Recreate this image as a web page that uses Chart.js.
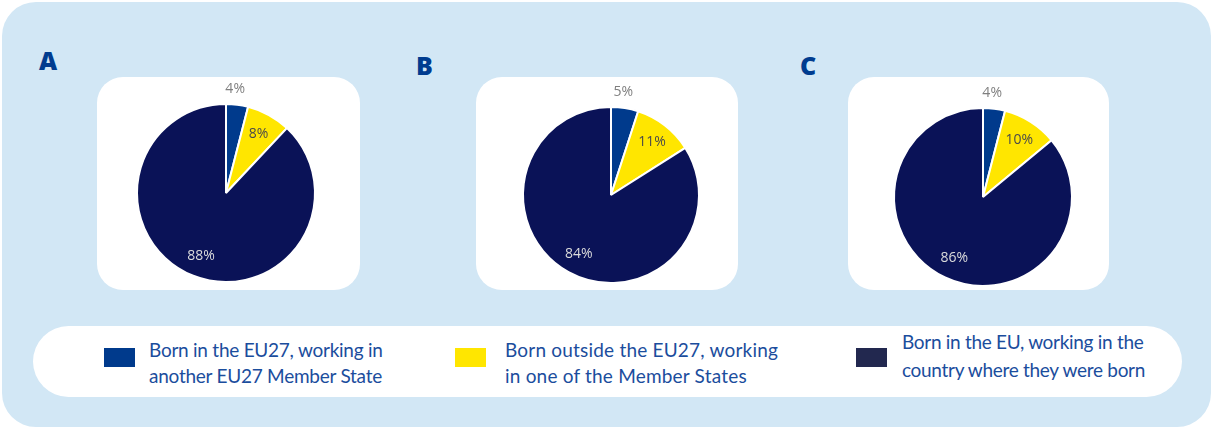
<!DOCTYPE html>
<html>
<head>
<meta charset="utf-8">
<script src="https://cdn.jsdelivr.net/npm/chart.js@4.4.1/dist/chart.umd.min.js"></script>
<style>
  html, body { margin:0; padding:0; background:#ffffff; width:1212px; height:429px; overflow:hidden; }
  #bg { position:absolute; left:2px; top:2px; width:1209px; height:425px; border-radius:34px; background:#d2e7f5; }
  .box { position:absolute; background:#ffffff; border-radius:26px; }
  .box canvas { position:absolute; left:0; top:0; }
  .letter { position:absolute; font-family:"Open Sans", sans-serif; font-weight:800; font-size:25px; color:#003c8f; line-height:25px; }
  #legend { position:absolute; left:33px; top:326px; width:1149px; height:71px; background:#ffffff; border-radius:36px; }
  .sw { position:absolute; width:31px; height:19px; }
  .lt { position:absolute; font-family:Lato, sans-serif; font-size:19px; line-height:26px; color:#1b4d9d; white-space:nowrap; }
</style>
</head>
<body>
<div id="bg"></div>
<div id="legend"></div>
<div id="root"></div>
<script>
// ---------- data ----------
const panelLetters = ["A", "B", "C"];
const categories = [
  "Born in the EU27, working in another EU27 Member State",
  "Born outside the EU27, working in one of the Member States",
  "Born in the EU, working in the country where they were born"
];
const legendLines = [
  ["Born in the EU27, working in", "another EU27 Member State"],
  ["Born outside the EU27, working", "in one of the Member States"],
  ["Born in the EU, working in the", "country where they were born"]
];
const valuesA = [4, 8, 88];
const valuesB = [5, 11, 84];
const valuesC = [4, 10, 86];

// ---------- styles / layout ----------
const sliceColors = ["#003a8c", "#ffe600", "#0a1257"];
const legendColors = ["#003a8c", "#ffe600", "#22284f"];
const labelColors = ["#7f7f7f", "#4a4a4a", "#dcdcdc"];

const panels = [
  { values: valuesA, box: {x:97,  y:77, w:263, h:213}, center: {x:226, y:193}, r:89, letter:{x:39,  y:48} },
  { values: valuesB, box: {x:476, y:77, w:262, h:213}, center: {x:611, y:195}, r:88, letter:{x:416, y:53} },
  { values: valuesC, box: {x:848, y:77, w:261, h:213}, center: {x:983, y:197}, r:89, letter:{x:800, y:53} }
];

const legendItems = [
  { sw:{x:104, y:348}, text:{x:149, y:337}, ls:-0.25 },
  { sw:{x:455, y:348}, text:{x:505, y:337}, ls:0.2 },
  { sw:{x:856, y:348}, text:{x:902, y:328}, lh:28, ls:-0.3 }
];

const labelPlugin = {
  id: 'pctLabels',
  afterDatasetsDraw(chart) {
    const ctx = chart.ctx;
    const meta = chart.getDatasetMeta(0);
    const data = chart.data.datasets[0].data;
    ctx.save();
    ctx.font = '14px "Open Sans", sans-serif';
    ctx.textAlign = 'center';
    ctx.textBaseline = 'middle';
    meta.data.forEach((arc, i) => {
      const p = arc.getProps(['x','y','startAngle','endAngle','outerRadius'], true);
      const mid = (p.startAngle + p.endAngle) / 2;
      const d = i === 0 ? p.outerRadius + 16 : p.outerRadius * 0.76;
      let x = p.x + Math.cos(mid) * d;
      let y = p.y + Math.sin(mid) * d;
      if (i === 0) x -= 4;
      ctx.fillStyle = labelColors[i];
      ctx.fillText(data[i] + '%', x, y);
    });
    ctx.restore();
  }
};

const root = document.getElementById('root');
panels.forEach((pn, k) => {
  const L = document.createElement('div');
  L.className = 'letter';
  L.style.left = pn.letter.x + 'px';
  L.style.top = pn.letter.y + 'px';
  L.textContent = panelLetters[k];
  root.appendChild(L);

  const box = document.createElement('div');
  box.className = 'box';
  box.style.left = pn.box.x + 'px';
  box.style.top = pn.box.y + 'px';
  box.style.width = pn.box.w + 'px';
  box.style.height = pn.box.h + 'px';
  const cv = document.createElement('canvas');
  cv.width = pn.box.w; cv.height = pn.box.h;
  cv.style.width = pn.box.w + 'px'; cv.style.height = pn.box.h + 'px';
  box.appendChild(cv);
  root.appendChild(box);

  const cx = pn.center.x - pn.box.x, cy = pn.center.y - pn.box.y, s = pn.r + 1;
  new Chart(cv, {
    type: 'pie',
    data: {
      labels: categories,
      datasets: [{
        data: pn.values,
        backgroundColor: sliceColors,
        borderColor: '#ffffff',
        borderWidth: 2,
        hoverOffset: 0
      }]
    },
    options: {
      responsive: false,
      animation: false,
      events: [],
      layout: { padding: { left: cx - s, top: cy - s, right: pn.box.w - (cx + s), bottom: pn.box.h - (cy + s) } },
      plugins: { legend: { display: false }, tooltip: { enabled: false } }
    },
    plugins: [labelPlugin]
  });
});

legendItems.forEach((it, i) => {
  const sw = document.createElement('div');
  sw.className = 'sw';
  sw.style.left = it.sw.x + 'px';
  sw.style.top = it.sw.y + 'px';
  sw.style.background = legendColors[i];
  root.appendChild(sw);
  const t = document.createElement('div');
  t.className = 'lt';
  t.style.left = it.text.x + 'px';
  t.style.top = it.text.y + 'px';
  if (it.lh) t.style.lineHeight = it.lh + 'px';
  t.style.letterSpacing = it.ls + 'px';
  t.innerHTML = legendLines[i].join('<br>');
  root.appendChild(t);
});
</script>
</body>
</html>
